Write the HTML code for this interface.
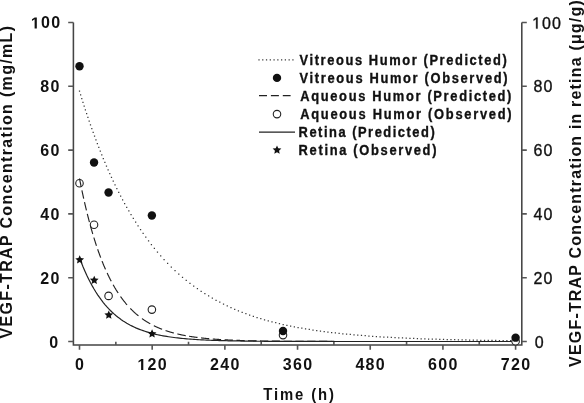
<!DOCTYPE html>
<html><head><meta charset="utf-8"><style>
html,body{margin:0;padding:0;background:#fff;overflow:hidden}
svg{display:block;filter:grayscale(1)}
text{font-family:"Liberation Sans",sans-serif;fill:#111}
.b{font-weight:bold;font-size:16px;letter-spacing:1.3px}
.r{font-size:16px;letter-spacing:1.0px;stroke:#111;stroke-width:0.35px}
.t{font-weight:bold;font-size:16px;letter-spacing:1.33px}
.h1{fill-opacity:0;stroke-opacity:0}
.l{font-weight:bold;font-size:14px;letter-spacing:1.7px;stroke:#111;stroke-width:0.35px}
</style></head><body>
<svg width="584" height="403" viewBox="0 0 584 403">
<path d="M73.4,22.5 V344.9 H521.8 V22.5" fill="none" stroke="#444" stroke-width="1.55"/>
<path d="M68.2,341.50 H73.4 M521.8,341.50 H526.8 M68.2,277.70 H73.4 M521.8,277.70 H526.8 M68.2,213.90 H73.4 M521.8,213.90 H526.8 M68.2,150.10 H73.4 M521.8,150.10 H526.8 M68.2,86.30 H73.4 M521.8,86.30 H526.8 M68.2,22.50 H73.4 M521.8,22.50 H526.8 M79.50,344.9 V349.7 M152.18,344.9 V349.7 M224.87,344.9 V349.7 M297.55,344.9 V349.7 M370.23,344.9 V349.7 M442.92,344.9 V349.7 M515.60,344.9 V349.7 M115.84,344.9 V341.7 M188.52,344.9 V341.7 M261.21,344.9 V341.7 M333.89,344.9 V341.7 M406.57,344.9 V341.7 M479.26,344.9 V341.7" fill="none" stroke="#555" stroke-width="1.6"/>
<circle cx="79.50" cy="183.28" r="3.75" fill="#fff" stroke="#222" stroke-width="1.1"/>
<circle cx="94.04" cy="224.75" r="3.75" fill="#fff" stroke="#222" stroke-width="1.1"/>
<circle cx="108.57" cy="295.88" r="3.75" fill="#fff" stroke="#222" stroke-width="1.1"/>
<circle cx="151.88" cy="309.60" r="3.75" fill="#fff" stroke="#222" stroke-width="1.1"/>
<path d="M78.88,90.46h1.25v1.25h-1.25z M80.01,94.18h1.25v1.25h-1.25z M81.16,97.92h1.25v1.25h-1.25z M82.34,101.67h1.25v1.25h-1.25z M83.54,105.43h1.25v1.25h-1.25z M84.76,109.19h1.25v1.25h-1.25z M86.01,112.97h1.25v1.25h-1.25z M87.27,116.74h1.25v1.25h-1.25z M88.56,120.52h1.25v1.25h-1.25z M89.86,124.29h1.25v1.25h-1.25z M91.19,128.07h1.25v1.25h-1.25z M92.55,131.83h1.25v1.25h-1.25z M93.92,135.59h1.25v1.25h-1.25z M95.32,139.34h1.25v1.25h-1.25z M96.73,143.08h1.25v1.25h-1.25z M98.17,146.80h1.25v1.25h-1.25z M99.66,150.56h1.25v1.25h-1.25z M101.16,154.31h1.25v1.25h-1.25z M102.69,158.03h1.25v1.25h-1.25z M104.26,161.79h1.25v1.25h-1.25z M105.85,165.51h1.25v1.25h-1.25z M107.48,169.26h1.25v1.25h-1.25z M109.16,173.02h1.25v1.25h-1.25z M110.86,176.75h1.25v1.25h-1.25z M112.61,180.49h1.25v1.25h-1.25z M114.40,184.23h1.25v1.25h-1.25z M116.23,187.98h1.25v1.25h-1.25z M118.10,191.72h1.25v1.25h-1.25z M120.02,195.45h1.25v1.25h-1.25z M121.98,199.17h1.25v1.25h-1.25z M124.01,202.92h1.25v1.25h-1.25z M126.08,206.64h1.25v1.25h-1.25z M128.22,210.37h1.25v1.25h-1.25z M130.42,214.12h1.25v1.25h-1.25z M132.69,217.86h1.25v1.25h-1.25z M135.02,221.59h1.25v1.25h-1.25z M137.44,225.34h1.25v1.25h-1.25z M139.93,229.07h1.25v1.25h-1.25z M142.50,232.81h1.25v1.25h-1.25z M145.16,236.54h1.25v1.25h-1.25z M147.93,240.29h1.25v1.25h-1.25z M150.79,244.01h1.25v1.25h-1.25z M153.75,247.73h1.25v1.25h-1.25z M156.85,251.47h1.25v1.25h-1.25z M160.08,255.20h1.25v1.25h-1.25z M163.46,258.94h1.25v1.25h-1.25z M166.99,262.67h1.25v1.25h-1.25z M170.70,266.41h1.25v1.25h-1.25z M174.42,269.99h1.25v1.25h-1.25z M178.15,273.39h1.25v1.25h-1.25z M181.88,276.64h1.25v1.25h-1.25z M185.61,279.72h1.25v1.25h-1.25z M189.34,282.66h1.25v1.25h-1.25z M193.07,285.46h1.25v1.25h-1.25z M196.80,288.12h1.25v1.25h-1.25z M200.53,290.66h1.25v1.25h-1.25z M204.25,293.07h1.25v1.25h-1.25z M207.98,295.37h1.25v1.25h-1.25z M211.71,297.55h1.25v1.25h-1.25z M215.44,299.64h1.25v1.25h-1.25z M219.17,301.62h1.25v1.25h-1.25z M222.90,303.50h1.25v1.25h-1.25z M226.63,305.30h1.25v1.25h-1.25z M230.35,307.01h1.25v1.25h-1.25z M234.08,308.64h1.25v1.25h-1.25z M237.81,310.19h1.25v1.25h-1.25z M241.54,311.66h1.25v1.25h-1.25z M245.27,313.07h1.25v1.25h-1.25z M249.00,314.40h1.25v1.25h-1.25z M252.73,315.67h1.25v1.25h-1.25z M256.45,316.88h1.25v1.25h-1.25z M260.18,318.04h1.25v1.25h-1.25z M263.91,319.14h1.25v1.25h-1.25z M267.64,320.18h1.25v1.25h-1.25z M271.37,321.17h1.25v1.25h-1.25z M275.10,322.12h1.25v1.25h-1.25z M278.83,323.02h1.25v1.25h-1.25z M282.56,323.88h1.25v1.25h-1.25z M286.28,324.70h1.25v1.25h-1.25z M290.01,325.47h1.25v1.25h-1.25z M293.74,326.21h1.25v1.25h-1.25z M297.47,326.92h1.25v1.25h-1.25z M301.20,327.59h1.25v1.25h-1.25z M304.93,328.23h1.25v1.25h-1.25z M308.66,328.84h1.25v1.25h-1.25z M312.38,329.41h1.25v1.25h-1.25z M316.11,329.97h1.25v1.25h-1.25z M319.84,330.49h1.25v1.25h-1.25z M323.57,330.99h1.25v1.25h-1.25z M327.30,331.46h1.25v1.25h-1.25z M331.03,331.92h1.25v1.25h-1.25z M334.76,332.35h1.25v1.25h-1.25z M338.49,332.76h1.25v1.25h-1.25z M342.21,333.15h1.25v1.25h-1.25z M345.94,333.52h1.25v1.25h-1.25z M349.67,333.87h1.25v1.25h-1.25z M353.40,334.21h1.25v1.25h-1.25z M357.13,334.53h1.25v1.25h-1.25z M360.86,334.83h1.25v1.25h-1.25z M364.59,335.12h1.25v1.25h-1.25z M368.31,335.40h1.25v1.25h-1.25z M372.04,335.66h1.25v1.25h-1.25z M375.77,335.91h1.25v1.25h-1.25z M379.50,336.15h1.25v1.25h-1.25z M383.23,336.38h1.25v1.25h-1.25z M386.96,336.59h1.25v1.25h-1.25z M390.69,336.80h1.25v1.25h-1.25z M394.42,337.00h1.25v1.25h-1.25z M398.14,337.18h1.25v1.25h-1.25z M401.87,337.36h1.25v1.25h-1.25z M405.60,337.53h1.25v1.25h-1.25z M409.33,337.69h1.25v1.25h-1.25z M413.06,337.84h1.25v1.25h-1.25z M416.79,337.99h1.25v1.25h-1.25z M420.52,338.13h1.25v1.25h-1.25z M424.24,338.26h1.25v1.25h-1.25z M427.97,338.39h1.25v1.25h-1.25z M431.70,338.50h1.25v1.25h-1.25z M435.43,338.62h1.25v1.25h-1.25z M439.16,338.73h1.25v1.25h-1.25z M442.89,338.83h1.25v1.25h-1.25z M446.62,338.93h1.25v1.25h-1.25z M450.34,339.02h1.25v1.25h-1.25z M454.07,339.11h1.25v1.25h-1.25z M457.80,339.20h1.25v1.25h-1.25z M461.53,339.28h1.25v1.25h-1.25z M465.26,339.35h1.25v1.25h-1.25z M468.99,339.43h1.25v1.25h-1.25z M472.72,339.50h1.25v1.25h-1.25z M476.45,339.56h1.25v1.25h-1.25z M480.17,339.63h1.25v1.25h-1.25z M483.90,339.69h1.25v1.25h-1.25z M487.63,339.74h1.25v1.25h-1.25z M491.36,339.80h1.25v1.25h-1.25z M495.09,339.85h1.25v1.25h-1.25z M498.82,339.90h1.25v1.25h-1.25z M502.55,339.95h1.25v1.25h-1.25z M506.27,339.99h1.25v1.25h-1.25z M510.00,340.03h1.25v1.25h-1.25z M513.73,340.07h1.25v1.25h-1.25z" fill="#3a3a3a"/>
<path d="M79.50,178.49 L79.72,179.60 L79.94,180.71 L80.15,181.80 L80.37,182.89 L80.59,183.97 L80.81,185.05 L81.03,186.11 L81.17,186.80 M81.90,190.31 L82.12,191.34 L82.33,192.36 L82.55,193.38 L82.77,194.39 L82.99,195.39 L83.21,196.39 L83.42,197.37 L83.64,198.36 L83.70,198.60 M84.49,202.12 L84.52,202.22 L84.73,203.17 L84.95,204.11 L85.17,205.05 L85.39,205.98 L85.61,206.90 L85.82,207.82 L86.04,208.73 L86.26,209.64 L86.44,210.40 M87.31,213.90 L87.35,214.07 L87.57,214.94 L87.79,215.80 L88.00,216.66 L88.22,217.51 L88.44,218.35 L88.66,219.19 L88.88,220.03 L89.09,220.86 L89.31,221.68 L89.45,222.21 M90.40,225.71 L90.62,226.50 L90.84,227.28 L91.06,228.06 L91.27,228.83 L91.49,229.60 L91.71,230.36 L91.93,231.12 L92.15,231.87 L92.36,232.62 L92.58,233.36 L92.78,234.03 M93.83,237.50 L93.89,237.71 L94.11,238.42 L94.33,239.12 L94.55,239.82 L94.76,240.51 L94.98,241.20 L95.20,241.88 L95.42,242.56 L95.64,243.24 L95.85,243.91 L96.07,244.57 L96.29,245.23 L96.48,245.79 M97.66,249.29 L97.82,249.73 L98.03,250.36 L98.25,250.98 L98.47,251.60 L98.69,252.21 L98.91,252.82 L99.12,253.42 L99.34,254.02 L99.56,254.62 L99.78,255.21 L100.00,255.80 L100.21,256.38 L100.43,256.97 L100.65,257.54 L100.67,257.60 M102.04,261.11 L102.18,261.47 L102.40,262.01 L102.61,262.55 L102.83,263.09 L103.05,263.63 L103.27,264.16 L103.49,264.68 L103.70,265.21 L103.92,265.73 L104.14,266.24 L104.36,266.76 L104.58,267.27 L104.79,267.77 L105.01,268.28 L105.23,268.77 L105.45,269.27 L105.50,269.39 M107.09,272.91 L107.19,273.12 L107.41,273.58 L107.63,274.05 L107.85,274.51 L108.06,274.96 L108.28,275.42 L108.50,275.87 L108.72,276.31 L108.94,276.76 L109.15,277.20 L109.37,277.64 L109.59,278.07 L109.81,278.51 L110.03,278.94 L110.25,279.36 L110.46,279.79 L110.68,280.21 L110.90,280.62 L111.12,281.04 L111.20,281.20 M113.11,284.71 L113.30,285.04 L113.52,285.42 L113.73,285.80 L113.95,286.18 L114.17,286.56 L114.39,286.93 L114.61,287.31 L114.82,287.68 L115.04,288.04 L115.26,288.41 L115.48,288.77 L115.70,289.13 L115.91,289.49 L116.13,289.84 L116.35,290.19 L116.57,290.54 L116.79,290.89 L117.00,291.23 L117.22,291.58 L117.44,291.92 L117.66,292.26 L117.88,292.59 L118.09,292.92 L118.15,293.01 M120.53,296.49 L120.71,296.75 L120.93,297.06 L121.15,297.36 L121.37,297.66 L121.58,297.96 L121.80,298.26 L122.02,298.55 L122.24,298.84 L122.46,299.13 L122.67,299.42 L122.89,299.71 L123.11,300.00 L123.33,300.28 L123.55,300.56 L123.76,300.84 L123.98,301.12 L124.20,301.39 L124.42,301.66 L124.64,301.94 L124.85,302.21 L125.07,302.47 L125.29,302.74 L125.51,303.00 L125.73,303.27 L125.94,303.53 L126.16,303.79 L126.38,304.04 L126.60,304.30 L126.82,304.55 L127.03,304.80 M130.23,308.30 L130.31,308.38 L130.52,308.61 L130.74,308.83 L130.96,309.05 L131.18,309.28 L131.40,309.50 L131.61,309.71 L131.83,309.93 L132.05,310.15 L132.27,310.36 L132.49,310.57 L132.70,310.78 L132.92,310.99 L133.14,311.20 L133.36,311.41 L133.58,311.61 L133.79,311.81 L134.01,312.02 L134.23,312.22 L134.45,312.42 L134.67,312.62 L134.88,312.81 L135.10,313.01 L135.32,313.20 L135.54,313.40 L135.76,313.59 L135.97,313.78 L136.19,313.97 L136.41,314.15 L136.63,314.34 L136.85,314.53 L137.07,314.71 L137.28,314.89 L137.50,315.07 L137.72,315.25 L137.94,315.43 L138.16,315.61 L138.37,315.79 L138.49,315.88 M141.99,318.55 L142.08,318.61 L142.30,318.77 L142.52,318.92 L142.73,319.07 L142.95,319.23 L143.17,319.38 L143.39,319.53 L143.61,319.68 L143.82,319.83 L144.04,319.98 L144.26,320.12 L144.48,320.27 L144.70,320.41 L144.91,320.56 L145.13,320.70 L145.35,320.84 L145.57,320.98 L145.79,321.12 L146.01,321.26 L146.22,321.40 L146.44,321.54 L146.66,321.67 L146.88,321.81 L147.10,321.94 L147.31,322.07 L147.53,322.21 L147.75,322.34 L147.97,322.47 L148.19,322.60 L148.40,322.73 L148.62,322.86 L148.84,322.98 L149.06,323.11 L149.28,323.23 L149.49,323.36 L149.71,323.48 L149.93,323.61 L150.15,323.73 L150.30,323.81 M153.80,325.65 L153.86,325.68 L154.07,325.79 L154.29,325.89 L154.51,326.00 L154.73,326.11 L154.95,326.21 L155.16,326.31 L155.38,326.42 L155.60,326.52 L155.82,326.62 L156.04,326.72 L156.25,326.83 L156.47,326.93 L156.69,327.02 L156.91,327.12 L157.13,327.22 L157.34,327.32 L157.56,327.42 L157.78,327.51 L158.00,327.61 L158.22,327.70 L158.43,327.80 L158.65,327.89 L158.87,327.98 L159.09,328.07 L159.31,328.17 L159.52,328.26 L159.74,328.35 L159.96,328.44 L160.18,328.53 L160.40,328.61 L160.61,328.70 L160.83,328.79 L161.05,328.88 L161.27,328.96 L161.49,329.05 L161.70,329.13 L161.92,329.22 L162.10,329.28 M165.60,330.55 L165.63,330.56 L165.85,330.64 L166.07,330.71 L166.28,330.79 L166.50,330.86 L166.72,330.93 L166.94,331.00 L167.16,331.08 L167.37,331.15 L167.59,331.22 L167.81,331.29 L168.03,331.36 L168.25,331.43 L168.46,331.49 L168.68,331.56 L168.90,331.63 L169.12,331.70 L169.34,331.77 L169.55,331.83 L169.77,331.90 L169.99,331.96 L170.21,332.03 L170.43,332.09 L170.64,332.16 L170.86,332.22 L171.08,332.28 L171.30,332.35 L171.52,332.41 L171.74,332.47 L171.95,332.53 L172.17,332.59 L172.39,332.65 L172.61,332.71 L172.83,332.77 L173.04,332.83 L173.26,332.89 L173.48,332.95 L173.70,333.01 L173.89,333.06 M177.39,333.94 L177.40,333.94 L177.62,333.99 L177.84,334.04 L178.06,334.10 L178.28,334.15 L178.49,334.20 L178.71,334.25 L178.93,334.30 L179.15,334.34 L179.37,334.39 L179.58,334.44 L179.80,334.49 L180.02,334.54 L180.24,334.58 L180.46,334.63 L180.68,334.68 L180.89,334.73 L181.11,334.77 L181.33,334.82 L181.55,334.86 L181.77,334.91 L181.98,334.95 L182.20,335.00 L182.42,335.04 L182.64,335.09 L182.86,335.13 L183.07,335.17 L183.29,335.22 L183.51,335.26 L183.73,335.30 L183.95,335.34 L184.16,335.39 L184.38,335.43 L184.60,335.47 L184.82,335.51 L185.04,335.55 L185.25,335.59 L185.47,335.63 L185.69,335.67 L185.70,335.67 M189.20,336.28 L189.40,336.31 L189.62,336.35 L189.83,336.38 L190.05,336.42 L190.27,336.45 L190.49,336.49 L190.71,336.52 L190.92,336.55 L191.14,336.59 L191.36,336.62 L191.58,336.65 L191.80,336.69 L192.01,336.72 L192.23,336.75 L192.45,336.79 L192.67,336.82 L192.89,336.85 L193.10,336.88 L193.32,336.91 L193.54,336.94 L193.76,336.97 L193.98,337.01 L194.19,337.04 L194.41,337.07 L194.63,337.10 L194.85,337.13 L195.07,337.16 L195.28,337.19 L195.50,337.22 L195.72,337.25 L195.94,337.27 L196.16,337.30 L196.37,337.33 L196.59,337.36 L196.81,337.39 L197.03,337.42 L197.25,337.44 L197.47,337.47 L197.50,337.48 M201.00,337.89 L201.17,337.91 L201.39,337.94 L201.61,337.96 L201.83,337.99 L202.04,338.01 L202.26,338.03 L202.48,338.06 L202.70,338.08 L202.92,338.10 L203.13,338.13 L203.35,338.15 L203.57,338.17 L203.79,338.20 L204.01,338.22 L204.22,338.24 L204.44,338.26 L204.66,338.29 L204.88,338.31 L205.10,338.33 L205.31,338.35 L205.53,338.37 L205.75,338.39 L205.97,338.41 L206.19,338.44 L206.41,338.46 L206.62,338.48 L206.84,338.50 L207.06,338.52 L207.28,338.54 L207.50,338.56 L207.71,338.58 L207.93,338.60 L208.15,338.62 L208.37,338.64 L208.59,338.66 L208.80,338.68 L209.02,338.70 L209.24,338.72 L209.29,338.72 M212.79,339.01 L212.95,339.02 L213.16,339.04 L213.38,339.05 L213.60,339.07 L213.82,339.09 L214.04,339.10 L214.25,339.12 L214.47,339.14 L214.69,339.15 L214.91,339.17 L215.13,339.19 L215.35,339.20 L215.56,339.22 L215.78,339.23 L216.00,339.25 L216.22,339.26 L216.44,339.28 L216.65,339.29 L216.87,339.31 L217.09,339.32 L217.31,339.34 L217.53,339.35 L217.74,339.37 L217.96,339.38 L218.18,339.40 L218.40,339.41 L218.62,339.43 L218.83,339.44 L219.05,339.45 L219.27,339.47 L219.49,339.48 L219.71,339.49 L219.92,339.51 L220.14,339.52 L220.36,339.54 L220.58,339.55 L220.80,339.56 L221.01,339.58 L221.10,339.58 M224.60,339.78 L224.72,339.79 L224.94,339.80 L225.16,339.81 L225.38,339.82 L225.59,339.83 L225.81,339.84 L226.03,339.86 L226.25,339.87 L226.47,339.88 L226.68,339.89 L226.90,339.90 L227.12,339.91 L227.34,339.92 L227.56,339.93 L227.77,339.94 L227.99,339.95 L228.21,339.96 L228.43,339.97 L228.65,339.99 L228.86,340.00 L229.08,340.01 L229.30,340.02 L229.52,340.03 L229.74,340.04 L229.95,340.05 L230.17,340.06 L230.39,340.07 L230.61,340.08 L230.83,340.09 L231.04,340.10 L231.26,340.10 L231.48,340.11 L231.70,340.12 L231.92,340.13 L232.13,340.14 L232.35,340.15 L232.57,340.16 L232.79,340.17 L232.90,340.17 M236.40,340.31 L236.50,340.32 L236.71,340.32 L236.93,340.33 L237.15,340.34 L237.37,340.35 L237.59,340.36 L237.80,340.36 L238.02,340.37 L238.24,340.38 L238.46,340.39 L238.68,340.39 L238.89,340.40 L239.11,340.41 L239.33,340.42 L239.55,340.42 L239.77,340.43 L239.98,340.44 L240.20,340.45 L240.42,340.45 L240.64,340.46 L240.86,340.47 L241.08,340.47 L241.29,340.48 L241.51,340.49 L241.73,340.50 L241.95,340.50 L242.17,340.51 L242.38,340.52 L242.60,340.52 L242.82,340.53 L243.04,340.54 L243.26,340.54 L243.47,340.55 L243.69,340.56 L243.91,340.56 L244.13,340.57 L244.35,340.57 L244.56,340.58 L244.69,340.58 M248.19,340.68 L248.27,340.68 L248.49,340.69 L248.71,340.69 L248.92,340.70 L249.14,340.70 L249.36,340.71 L249.58,340.71 L249.80,340.72 L250.02,340.73 L250.23,340.73 L250.45,340.74 L250.67,340.74 L250.89,340.75 L251.11,340.75 L251.32,340.76 L251.54,340.76 L251.76,340.77 L251.98,340.77 L252.20,340.78 L252.41,340.78 L252.63,340.79 L252.85,340.79 L253.07,340.80 L253.29,340.80 L253.50,340.81 L253.72,340.81 L253.94,340.81 L254.16,340.82 L254.38,340.82 L254.59,340.83 L254.81,340.83 L255.03,340.84 L255.25,340.84 L255.47,340.85 L255.68,340.85 L255.90,340.86 L256.12,340.86 L256.34,340.86 L256.50,340.87 M260.00,340.93 L260.05,340.93 L260.26,340.94 L260.48,340.94 L260.70,340.95 L260.92,340.95 L261.14,340.95 L261.35,340.96 L261.57,340.96 L261.79,340.96 L262.01,340.97 L262.23,340.97 L262.44,340.98 L262.66,340.98 L262.88,340.98 L263.10,340.99 L263.32,340.99 L263.53,340.99 L263.75,341.00 L263.97,341.00 L264.19,341.00 L264.41,341.01 L264.62,341.01 L264.84,341.01 L265.06,341.02 L265.28,341.02 L265.50,341.02 L265.71,341.03 L265.93,341.03 L266.15,341.03 L266.37,341.04 L266.59,341.04 L266.80,341.04 L267.02,341.05 L267.24,341.05 L267.46,341.05 L267.68,341.05 L267.90,341.06 L268.11,341.06 L268.30,341.06 M271.80,341.11 L271.82,341.11 L272.04,341.11 L272.26,341.11 L272.47,341.12 L272.69,341.12 L272.91,341.12 L273.13,341.12 L273.35,341.13 L273.56,341.13 L273.78,341.13 L274.00,341.13 L274.22,341.14 L274.44,341.14 L274.65,341.14 L274.87,341.14 L275.09,341.15 L275.31,341.15 L275.53,341.15 L275.75,341.15 L275.96,341.16 L276.18,341.16 L276.40,341.16 L276.62,341.16 L276.84,341.17 L277.05,341.17 L277.27,341.17 L277.49,341.17 L277.71,341.17 L277.93,341.18 L278.14,341.18 L278.36,341.18 L278.58,341.18 L278.80,341.19 L279.02,341.19 L279.23,341.19 L279.45,341.19 L279.67,341.19 L279.89,341.20 L280.10,341.20 M283.59,341.23 L283.81,341.23 L284.03,341.23 L284.25,341.24 L284.47,341.24 L284.69,341.24 L284.90,341.24 L285.12,341.24 L285.34,341.24 L285.56,341.25 L285.78,341.25 L285.99,341.25 L286.21,341.25 L286.43,341.25 L286.65,341.25 L286.87,341.26 L287.08,341.26 L287.30,341.26 L287.52,341.26 L287.74,341.26 L287.96,341.26 L288.17,341.27 L288.39,341.27 L288.61,341.27 L288.83,341.27 L289.05,341.27 L289.26,341.27 L289.48,341.28 L289.70,341.28 L289.92,341.28 L290.14,341.28 L290.35,341.28 L290.57,341.28 L290.79,341.28 L291.01,341.29 L291.23,341.29 L291.44,341.29 L291.66,341.29 L291.88,341.29 L291.89,341.29 M295.40,341.31 L295.59,341.31 L295.81,341.32 L296.02,341.32 L296.24,341.32 L296.46,341.32 L296.68,341.32 L296.90,341.32 L297.11,341.32 L297.33,341.32 L297.55,341.33 L297.77,341.33 L297.99,341.33 L298.20,341.33 L298.42,341.33 L298.64,341.33 L298.86,341.33 L299.08,341.33 L299.29,341.33 L299.51,341.34 L299.73,341.34 L299.95,341.34 L300.17,341.34 L300.38,341.34 L300.60,341.34 L300.82,341.34 L301.04,341.34 L301.26,341.34 L301.47,341.35 L301.69,341.35 L301.91,341.35 L302.13,341.35 L302.35,341.35 L302.57,341.35 L302.78,341.35 L303.00,341.35 L303.22,341.35 L303.44,341.35 L303.66,341.36 L303.70,341.36 M307.20,341.37 L307.36,341.37 L307.58,341.37 L307.80,341.37 L308.02,341.37 L308.23,341.38 L308.45,341.38 L308.67,341.38 L308.89,341.38 L309.11,341.38 L309.32,341.38 L309.54,341.38 L309.76,341.38 L309.98,341.38 L310.20,341.38 L310.41,341.38 L310.63,341.38 L310.85,341.39 L311.07,341.39 L311.29,341.39 L311.51,341.39 L311.72,341.39 L311.94,341.39 L312.16,341.39 L312.38,341.39 L312.60,341.39 L312.81,341.39 L313.03,341.39 L313.25,341.39 L313.47,341.39 L313.69,341.39 L313.90,341.40 L314.12,341.40 L314.34,341.40 L314.56,341.40 L314.78,341.40 L314.99,341.40 L315.21,341.40 L315.43,341.40 L315.50,341.40 M319.00,341.41 L319.14,341.41 L319.36,341.41 L319.57,341.41 L319.79,341.41 L320.01,341.41 L320.23,341.41 L320.45,341.41 L320.66,341.42 L320.88,341.42 L321.10,341.42 L321.32,341.42 L321.54,341.42 L321.75,341.42 L321.97,341.42 L322.19,341.42 L322.41,341.42 L322.63,341.42 L322.84,341.42 L323.06,341.42 L323.28,341.42 L323.50,341.42 L323.72,341.42 L323.93,341.42 L324.15,341.42 L324.37,341.42 L324.59,341.43 L324.81,341.43 L325.02,341.43 L325.24,341.43 L325.46,341.43 L325.68,341.43 L325.90,341.43 L326.11,341.43 L326.33,341.43 L326.55,341.43 L326.77,341.43 L326.99,341.43 L327.20,341.43 L327.29,341.43 M330.79,341.44 L330.91,341.44 L331.13,341.44 L331.35,341.44 L331.57,341.44 L331.78,341.44 L332.00,341.44 L332.22,341.44 L332.44,341.44 L332.66,341.44 L332.87,341.44 L333.09,341.44 L333.31,341.44 L333.53,341.44 L333.75,341.44 L333.96,341.44 L334.18,341.44 L334.40,341.45 L334.62,341.45 L334.84,341.45 L335.05,341.45 L335.27,341.45 L335.49,341.45 L335.71,341.45 L335.93,341.45 L336.14,341.45 L336.36,341.45 L336.58,341.45 L336.80,341.45 L337.02,341.45 L337.24,341.45 L337.45,341.45 L337.67,341.45 L337.89,341.45 L338.11,341.45 L338.33,341.45 L338.54,341.45 L338.76,341.45 L338.98,341.45 L339.10,341.45 M342.60,341.46 L342.69,341.46 L342.90,341.46 L343.12,341.46 L343.34,341.46 L343.56,341.46 L343.78,341.46 L343.99,341.46 L344.21,341.46 L344.43,341.46 L344.65,341.46 L344.87,341.46 L345.08,341.46 L345.30,341.46 L345.52,341.46 L345.74,341.46 L345.96,341.46 L346.18,341.46 L346.39,341.46 L346.61,341.46 L346.83,341.46 L347.05,341.46 L347.27,341.46 L347.48,341.46 L347.70,341.46 L347.92,341.46 L348.14,341.46 L348.36,341.46 L348.57,341.46 L348.79,341.47 L349.01,341.47 L349.23,341.47 L349.45,341.47 L349.66,341.47 L349.88,341.47 L350.10,341.47 L350.32,341.47 L350.54,341.47 L350.75,341.47 L350.90,341.47 M354.40,341.47 L354.46,341.47 L354.68,341.47 L354.90,341.47 L355.12,341.47 L355.33,341.47 L355.55,341.47 L355.77,341.47 L355.99,341.47 L356.21,341.47 L356.42,341.47 L356.64,341.47 L356.86,341.47 L357.08,341.47 L357.30,341.47 L357.51,341.47 L357.73,341.47 L357.95,341.47 L358.17,341.47 L358.39,341.47 L358.60,341.47 L358.82,341.47 L359.04,341.47 L359.26,341.47 L359.48,341.47 L359.69,341.48 L359.91,341.48 L360.13,341.48 L360.35,341.48 L360.57,341.48 L360.78,341.48 L361.00,341.48 L361.22,341.48 L361.44,341.48 L361.66,341.48 L361.87,341.48 L362.09,341.48 L362.31,341.48 L362.53,341.48 L362.69,341.48 M366.19,341.48 L366.24,341.48 L366.45,341.48 L366.67,341.48 L366.89,341.48 L367.11,341.48 L367.33,341.48 L367.54,341.48 L367.76,341.48 L367.98,341.48 L368.20,341.48 L368.42,341.48 L368.63,341.48 L368.85,341.48 L369.07,341.48 L369.29,341.48 L369.51,341.48 L369.72,341.48 L369.94,341.48 L370.16,341.48 L370.38,341.48 L370.60,341.48 L370.81,341.48 L371.03,341.48 L371.25,341.48 L371.47,341.48 L371.69,341.48 L371.91,341.48 L372.12,341.48 L372.34,341.48 L372.56,341.48 L372.78,341.48 L373.00,341.48 L373.21,341.48 L373.43,341.48 L373.65,341.48 L373.87,341.48 L374.09,341.48 L374.30,341.48 L374.50,341.48 M378.00,341.49 L378.01,341.49 L378.23,341.49 L378.45,341.49 L378.66,341.49 L378.88,341.49 L379.10,341.49 L379.32,341.49 L379.54,341.49 L379.75,341.49 L379.97,341.49 L380.19,341.49 L380.41,341.49 L380.63,341.49 L380.85,341.49 L381.06,341.49 L381.28,341.49 L381.50,341.49 L381.72,341.49 L381.94,341.49 L382.15,341.49 L382.37,341.49 L382.59,341.49 L382.81,341.49 L383.03,341.49 L383.24,341.49 L383.46,341.49 L383.68,341.49 L383.90,341.49 L384.12,341.49 L384.33,341.49 L384.55,341.49 L384.77,341.49 L384.99,341.49 L385.21,341.49 L385.42,341.49 L385.64,341.49 L385.86,341.49 L386.08,341.49 L386.30,341.49 M389.80,341.49 L390.00,341.49 L390.22,341.49 L390.44,341.49 L390.66,341.49 L390.88,341.49 L391.09,341.49 L391.31,341.49 L391.53,341.49 L391.75,341.49 L391.97,341.49 L392.18,341.49 L392.40,341.49 L392.62,341.49 L392.84,341.49 L393.06,341.49 L393.27,341.49 L393.49,341.49 L393.71,341.49 L393.93,341.49 L394.15,341.49 L394.36,341.49 L394.58,341.49 L394.80,341.49 L395.02,341.49 L395.24,341.49 L395.45,341.49 L395.67,341.49 L395.89,341.49 L396.11,341.49 L396.33,341.49 L396.54,341.49 L396.76,341.49 L396.98,341.49 L397.20,341.49 L397.42,341.49 L397.63,341.49 L397.85,341.49 L398.07,341.49 L398.09,341.49 M401.59,341.49 L401.78,341.49 L402.00,341.49 L402.21,341.49 L402.43,341.49 L402.65,341.49 L402.87,341.49 L403.09,341.49 L403.30,341.49 L403.52,341.49 L403.74,341.49 L403.96,341.49 L404.18,341.49 L404.39,341.49 L404.61,341.49 L404.83,341.49 L405.05,341.49 L405.27,341.49 L405.48,341.49 L405.70,341.49 L405.92,341.49 L406.14,341.49 L406.36,341.49 L406.57,341.49 L406.79,341.49 L407.01,341.49 L407.23,341.49 L407.45,341.49 L407.67,341.49 L407.88,341.49 L408.10,341.49 L408.32,341.49 L408.54,341.49 L408.76,341.49 L408.97,341.49 L409.19,341.49 L409.41,341.49 L409.63,341.49 L409.85,341.49 L409.90,341.49 M413.40,341.50 L413.55,341.50 L413.77,341.50 L413.99,341.50 L414.21,341.50 L414.42,341.50 L414.64,341.50 L414.86,341.50 L415.08,341.50 L415.30,341.50 L415.52,341.50 L415.73,341.50 L415.95,341.50 L416.17,341.50 L416.39,341.50 L416.61,341.50 L416.82,341.50 L417.04,341.50 L417.26,341.50 L417.48,341.50 L417.70,341.50 L417.91,341.50 L418.13,341.50 L418.35,341.50 L418.57,341.50 L418.79,341.50 L419.00,341.50 L419.22,341.50 L419.44,341.50 L419.66,341.50 L419.88,341.50 L420.09,341.50 L420.31,341.50 L420.53,341.50 L420.75,341.50 L420.97,341.50 L421.18,341.50 L421.40,341.50 L421.62,341.50 L421.70,341.50 M425.20,341.50 L425.33,341.50 L425.55,341.50 L425.76,341.50 L425.98,341.50 L426.20,341.50 L426.42,341.50 L426.64,341.50 L426.85,341.50 L427.07,341.50 L427.29,341.50 L427.51,341.50 L427.73,341.50 L427.94,341.50 L428.16,341.50 L428.38,341.50 L428.60,341.50 L428.82,341.50 L429.03,341.50 L429.25,341.50 L429.47,341.50 L429.69,341.50 L429.91,341.50 L430.12,341.50 L430.34,341.50 L430.56,341.50 L430.78,341.50 L431.00,341.50 L431.21,341.50 L431.43,341.50 L431.65,341.50 L431.87,341.50 L432.09,341.50 L432.30,341.50 L432.52,341.50 L432.74,341.50 L432.96,341.50 L433.18,341.50 L433.40,341.50 L433.49,341.50 M436.99,341.50 L437.10,341.50 L437.32,341.50 L437.54,341.50 L437.76,341.50 L437.97,341.50 L438.19,341.50 L438.41,341.50 L438.63,341.50 L438.85,341.50 L439.06,341.50 L439.28,341.50 L439.50,341.50 L439.72,341.50 L439.94,341.50 L440.15,341.50 L440.37,341.50 L440.59,341.50 L440.81,341.50 L441.03,341.50 L441.24,341.50 L441.46,341.50 L441.68,341.50 L441.90,341.50 L442.12,341.50 L442.34,341.50 L442.55,341.50 L442.77,341.50 L442.99,341.50 L443.21,341.50 L443.43,341.50 L443.64,341.50 L443.86,341.50 L444.08,341.50 L444.30,341.50 L444.52,341.50 L444.73,341.50 L444.95,341.50 L445.17,341.50 L445.30,341.50 M448.80,341.50 L448.88,341.50 L449.09,341.50 L449.31,341.50 L449.53,341.50 L449.75,341.50 L449.97,341.50 L450.19,341.50 L450.40,341.50 L450.62,341.50 L450.84,341.50 L451.06,341.50 L451.28,341.50 L451.49,341.50 L451.71,341.50 L451.93,341.50 L452.15,341.50 L452.37,341.50 L452.58,341.50 L452.80,341.50 L453.02,341.50 L453.24,341.50 L453.46,341.50 L453.67,341.50 L453.89,341.50 L454.11,341.50 L454.33,341.50 L454.55,341.50 L454.76,341.50 L454.98,341.50 L455.20,341.50 L455.42,341.50 L455.64,341.50 L455.85,341.50 L456.07,341.50 L456.29,341.50 L456.51,341.50 L456.73,341.50 L456.94,341.50 L457.10,341.50 M460.60,341.50 L460.65,341.50 L460.87,341.50 L461.09,341.50 L461.31,341.50 L461.52,341.50 L461.74,341.50 L461.96,341.50 L462.18,341.50 L462.40,341.50 L462.61,341.50 L462.83,341.50 L463.05,341.50 L463.27,341.50 L463.49,341.50 L463.70,341.50 L463.92,341.50 L464.14,341.50 L464.36,341.50 L464.58,341.50 L464.79,341.50 L465.01,341.50 L465.23,341.50 L465.45,341.50 L465.67,341.50 L465.88,341.50 L466.10,341.50 L466.32,341.50 L466.54,341.50 L466.76,341.50 L466.97,341.50 L467.19,341.50 L467.41,341.50 L467.63,341.50 L467.85,341.50 L468.07,341.50 L468.28,341.50 L468.50,341.50 L468.72,341.50 L468.89,341.50 M472.39,341.50 L472.43,341.50 L472.64,341.50 L472.86,341.50 L473.08,341.50 L473.30,341.50 L473.52,341.50 L473.73,341.50 L473.95,341.50 L474.17,341.50 L474.39,341.50 L474.61,341.50 L474.82,341.50 L475.04,341.50 L475.26,341.50 L475.48,341.50 L475.70,341.50 L475.91,341.50 L476.13,341.50 L476.35,341.50 L476.57,341.50 L476.79,341.50 L477.01,341.50 L477.22,341.50 L477.44,341.50 L477.66,341.50 L477.88,341.50 L478.10,341.50 L478.31,341.50 L478.53,341.50 L478.75,341.50 L478.97,341.50 L479.19,341.50 L479.40,341.50 L479.62,341.50 L479.84,341.50 L480.06,341.50 L480.28,341.50 L480.49,341.50 L480.70,341.50 M484.20,341.50 L484.42,341.50 L484.64,341.50 L484.85,341.50 L485.07,341.50 L485.29,341.50 L485.51,341.50 L485.73,341.50 L485.95,341.50 L486.16,341.50 L486.38,341.50 L486.60,341.50 L486.82,341.50 L487.04,341.50 L487.25,341.50 L487.47,341.50 L487.69,341.50 L487.91,341.50 L488.13,341.50 L488.34,341.50 L488.56,341.50 L488.78,341.50 L489.00,341.50 L489.22,341.50 L489.43,341.50 L489.65,341.50 L489.87,341.50 L490.09,341.50 L490.31,341.50 L490.52,341.50 L490.74,341.50 L490.96,341.50 L491.18,341.50 L491.40,341.50 L491.61,341.50 L491.83,341.50 L492.05,341.50 L492.27,341.50 L492.49,341.50 L492.50,341.50 M496.00,341.50 L496.19,341.50 L496.41,341.50 L496.63,341.50 L496.85,341.50 L497.07,341.50 L497.28,341.50 L497.50,341.50 L497.72,341.50 L497.94,341.50 L498.16,341.50 L498.37,341.50 L498.59,341.50 L498.81,341.50 L499.03,341.50 L499.25,341.50 L499.46,341.50 L499.68,341.50 L499.90,341.50 L500.12,341.50 L500.34,341.50 L500.55,341.50 L500.77,341.50 L500.99,341.50 L501.21,341.50 L501.43,341.50 L501.64,341.50 L501.86,341.50 L502.08,341.50 L502.30,341.50 L502.52,341.50 L502.74,341.50 L502.95,341.50 L503.17,341.50 L503.39,341.50 L503.61,341.50 L503.83,341.50 L504.04,341.50 L504.26,341.50 L504.29,341.50 M507.79,341.50 L507.97,341.50 L508.19,341.50 L508.40,341.50 L508.62,341.50 L508.84,341.50 L509.06,341.50 L509.28,341.50 L509.49,341.50 L509.71,341.50 L509.93,341.50 L510.15,341.50 L510.37,341.50 L510.58,341.50 L510.80,341.50 L511.02,341.50 L511.24,341.50 L511.46,341.50 L511.68,341.50 L511.89,341.50 L512.11,341.50 L512.33,341.50 L512.55,341.50 L512.77,341.50 L512.98,341.50 L513.20,341.50 L513.42,341.50 L513.64,341.50 L513.86,341.50 L514.07,341.50 L514.29,341.50 L514.51,341.50 L514.73,341.50 L514.95,341.50 L515.16,341.50 L515.38,341.50 L515.60,341.50" fill="none" stroke="#222" stroke-width="1.15"/>
<path d="M79.50,257.67 L81.32,262.43 L83.13,266.92 L84.95,271.16 L86.77,275.16 L88.59,278.93 L90.40,282.48 L92.22,285.84 L94.04,289.00 L95.85,291.98 L97.67,294.80 L99.49,297.45 L101.31,299.95 L103.12,302.31 L104.94,304.54 L106.76,306.64 L108.57,308.62 L110.39,310.49 L112.21,312.25 L114.02,313.91 L115.84,315.48 L117.66,316.96 L119.48,318.35 L121.29,319.67 L123.11,320.91 L124.93,322.08 L126.74,323.18 L128.56,324.22 L130.38,325.21 L132.20,326.13 L134.01,327.00 L135.83,327.83 L137.65,328.61 L139.46,329.34 L141.28,330.03 L143.10,330.68 L144.91,331.30 L146.73,331.88 L148.55,332.42 L150.37,332.94 L152.18,333.42 L154.00,333.88 L155.82,334.32 L157.63,334.72 L159.45,335.11 L161.27,335.47 L163.09,335.82 L164.90,336.14 L166.72,336.44 L168.54,336.73 L170.35,337.00 L172.17,337.26 L173.99,337.50 L175.81,337.73 L177.62,337.94 L179.44,338.14 L181.26,338.33 L183.07,338.51 L184.89,338.68 L186.71,338.84 L188.52,338.99 L190.34,339.14 L192.16,339.27 L193.98,339.40 L195.79,339.52 L197.61,339.63 L199.43,339.74 L201.24,339.84 L203.06,339.93 L204.88,340.02 L206.70,340.10 L208.51,340.18 L210.33,340.26 L212.15,340.33 L213.96,340.40 L215.78,340.46 L217.60,340.52 L219.42,340.57 L221.23,340.63 L223.05,340.68 L224.87,340.72 L226.68,340.77 L228.50,340.81 L230.32,340.85 L232.13,340.88 L233.95,340.92 L235.77,340.95 L237.59,340.98 L239.40,341.01 L241.22,341.04 L243.04,341.07 L244.85,341.09 L246.67,341.11 L248.49,341.14 L250.31,341.16 L252.12,341.18 L253.94,341.19 L255.76,341.21 L257.57,341.23 L259.39,341.24 L261.21,341.26 L263.03,341.27 L264.84,341.29 L266.66,341.30 L268.48,341.31 L270.29,341.32 L272.11,341.33 L273.93,341.34 L275.75,341.35 L277.56,341.36 L279.38,341.37 L281.20,341.37 L283.01,341.38 L284.83,341.39 L286.65,341.39 L288.46,341.40 L290.28,341.41 L292.10,341.41 L293.92,341.42 L295.73,341.42 L297.55,341.43 L299.37,341.43 L301.18,341.43 L303.00,341.44 L304.82,341.44 L306.64,341.44 L308.45,341.45 L310.27,341.45 L312.09,341.45 L313.90,341.46 L315.72,341.46 L317.54,341.46 L319.36,341.46 L321.17,341.46 L322.99,341.47 L324.81,341.47 L326.62,341.47 L328.44,341.47 L330.26,341.47 L332.07,341.48 L333.89,341.48 L335.71,341.48 L337.53,341.48 L339.34,341.48 L341.16,341.48 L342.98,341.48 L344.79,341.48 L346.61,341.48 L348.43,341.49 L350.25,341.49 L352.06,341.49 L353.88,341.49 L355.70,341.49 L357.51,341.49 L359.33,341.49 L361.15,341.49 L362.96,341.49 L364.78,341.49 L366.60,341.49 L368.42,341.49 L370.23,341.49 L372.05,341.49 L373.87,341.49 L375.68,341.49 L377.50,341.49 L379.32,341.49 L381.14,341.49 L382.95,341.50 L384.77,341.50 L386.59,341.50 L388.40,341.50 L390.22,341.50 L392.04,341.50 L393.86,341.50 L395.67,341.50 L397.49,341.50 L399.31,341.50 L401.12,341.50 L402.94,341.50 L404.76,341.50 L406.57,341.50 L408.39,341.50 L410.21,341.50 L412.03,341.50 L413.84,341.50 L415.66,341.50 L417.48,341.50 L419.29,341.50 L421.11,341.50 L422.93,341.50 L424.75,341.50 L426.56,341.50 L428.38,341.50 L430.20,341.50 L432.01,341.50 L433.83,341.50 L435.65,341.50 L437.47,341.50 L439.28,341.50 L441.10,341.50 L442.92,341.50 L444.73,341.50 L446.55,341.50 L448.37,341.50 L450.19,341.50 L452.00,341.50 L453.82,341.50 L455.64,341.50 L457.45,341.50 L459.27,341.50 L461.09,341.50 L462.90,341.50 L464.72,341.50 L466.54,341.50 L468.36,341.50 L470.17,341.50 L471.99,341.50 L473.81,341.50 L475.62,341.50 L477.44,341.50 L479.26,341.50 L481.08,341.50 L482.89,341.50 L484.71,341.50 L486.53,341.50 L488.34,341.50 L490.16,341.50 L491.98,341.50 L493.79,341.50 L495.61,341.50 L497.43,341.50 L499.25,341.50 L501.06,341.50 L502.88,341.50 L504.70,341.50 L506.51,341.50 L508.33,341.50 L510.15,341.50 L511.97,341.50 L513.78,341.50 L515.60,341.50" fill="none" stroke="#222" stroke-width="1.2"/>
<circle cx="283.01" cy="335.12" r="3.75" fill="#fff" stroke="#222" stroke-width="1.1"/>
<circle cx="515.60" cy="341.18" r="3.75" fill="#fff" stroke="#222" stroke-width="1.1"/>
<circle cx="79.50" cy="66.20" r="4.2" fill="#111"/>
<circle cx="94.04" cy="162.54" r="4.2" fill="#111"/>
<circle cx="108.57" cy="192.53" r="4.2" fill="#111"/>
<circle cx="151.88" cy="215.50" r="4.2" fill="#111"/>
<circle cx="283.01" cy="330.97" r="4.2" fill="#111"/>
<circle cx="515.60" cy="337.67" r="4.2" fill="#111"/>
<polygon points="79.70,255.24 80.96,258.10 84.07,258.41 81.74,260.50 82.40,263.56 79.70,261.99 77.00,263.56 77.66,260.50 75.33,258.41 78.44,258.10" fill="#111"/>
<polygon points="94.24,275.65 95.50,278.51 98.61,278.83 96.28,280.92 96.94,283.97 94.24,282.40 91.53,283.97 92.19,280.92 89.86,278.83 92.97,278.51" fill="#111"/>
<polygon points="108.77,310.42 110.04,313.28 113.15,313.60 110.82,315.69 111.48,318.74 108.77,317.17 106.07,318.74 106.73,315.69 104.40,313.60 107.51,313.28" fill="#111"/>
<polygon points="152.08,329.24 153.34,332.10 156.46,332.42 154.13,334.51 154.78,337.57 152.08,335.99 149.38,337.57 150.04,334.51 147.71,332.42 150.82,332.10" fill="#111"/>
<text x="59.4" y="348.10" text-anchor="end" class="b">0</text>
<text x="534.7" y="347.60" class="r">0</text>
<text x="60.6" y="283.60" text-anchor="end" class="b">20</text>
<text x="533.5" y="283.80" class="r">20</text>
<text x="60.6" y="219.80" text-anchor="end" class="b">40</text>
<text x="533.5" y="220.00" class="r">40</text>
<text x="60.6" y="156.00" text-anchor="end" class="b">60</text>
<text x="533.5" y="156.20" class="r">60</text>
<text x="60.6" y="92.20" text-anchor="end" class="b">80</text>
<text x="533.5" y="92.40" class="r">80</text>
<text x="61.5" y="28.40" text-anchor="end" class="b one"><tspan class="h1">1</tspan>00</text>
<text x="532.1" y="28.60" class="r one"><tspan class="h1">1</tspan>00</text>
<text x="80.00" y="370.1" text-anchor="middle" class="b">0</text>
<text x="152.68" y="370.1" text-anchor="middle" class="b one"><tspan class="h1">1</tspan>20</text>
<text x="225.37" y="370.1" text-anchor="middle" class="b">240</text>
<text x="298.05" y="370.1" text-anchor="middle" class="b">360</text>
<text x="370.73" y="370.1" text-anchor="middle" class="b">480</text>
<text x="443.42" y="370.1" text-anchor="middle" class="b">600</text>
<text x="516.10" y="370.1" text-anchor="middle" class="b">720</text>
<path d="M34.62,28.40 L34.62,19.26 L31.98,20.91 L31.98,19.18 L34.74,17.39 L36.82,17.39 L36.82,28.40Z" fill="#111"/>
<path d="M536.12,28.60 L536.12,18.94 L533.64,20.71 L533.64,19.38 L536.24,17.59 L537.54,17.59 L537.54,28.60Z" fill="#111" stroke="#111" stroke-width="0.35"/>
<path d="M141.11,370.10 L141.11,360.96 L138.47,362.61 L138.47,360.88 L141.23,359.09 L143.30,359.09 L143.30,370.10Z" fill="#111"/>
<text x="0" y="399.6" text-anchor="middle" class="t" style="letter-spacing:2.0px" transform="translate(299.5,0) scale(0.93,1)">Time (h)</text>
<text transform="translate(12.3,338.5) rotate(-90)" class="t">VEGF-TRAP Concentration (mg/mL)</text>
<text transform="translate(580.6,366.9) rotate(-90)" class="t" style="letter-spacing:1.18px">VEGF-TRAP Concentration in retina (μg/g)</text>
<text x="0" y="65.0" class="l" style="letter-spacing:1.743px" transform="translate(299.60,0) scale(0.92,1)">Vitreous Humor (Predicted)</text>
<text x="0" y="83.0" class="l" style="letter-spacing:1.818px" transform="translate(299.60,0) scale(0.92,1)">Vitreous Humor (Observed)</text>
<text x="0" y="101.0" class="l" style="letter-spacing:1.827px" transform="translate(300.20,0) scale(0.92,1)">Aqueous Humor (Predicted)</text>
<text x="0" y="119.3" class="l" style="letter-spacing:1.880px" transform="translate(300.20,0) scale(0.92,1)">Aqueous Humor (Observed)</text>
<text x="0" y="137.2" class="l" style="letter-spacing:1.662px" transform="translate(298.60,0) scale(0.92,1)">Retina (Predicted)</text>
<text x="0" y="155.2" class="l" style="letter-spacing:1.836px" transform="translate(298.60,0) scale(0.92,1)">Retina (Observed)</text>
<path d="M258.38,59.27h1.25v1.25h-1.25z M262.14,59.27h1.25v1.25h-1.25z M265.92,59.27h1.25v1.25h-1.25z M269.69,59.27h1.25v1.25h-1.25z M273.45,59.27h1.25v1.25h-1.25z M277.23,59.27h1.25v1.25h-1.25z M281.00,59.27h1.25v1.25h-1.25z M284.76,59.27h1.25v1.25h-1.25z M288.54,59.27h1.25v1.25h-1.25z M292.31,59.27h1.25v1.25h-1.25z" fill="#3a3a3a"/>
<circle cx="277.00" cy="77.90" r="4.2" fill="#111"/>
<path d="M259,95.6 H290.6" stroke="#222" stroke-width="1.3" stroke-dasharray="8 3.9" fill="none"/>
<circle cx="277.00" cy="114.10" r="3.75" fill="#fff" stroke="#222" stroke-width="1.1"/>
<path d="M259,132.1 H295" stroke="#222" stroke-width="1.2" fill="none"/>
<polygon points="277.00,145.40 278.26,148.26 281.37,148.58 279.04,150.66 279.70,153.72 277.00,152.15 274.30,153.72 274.96,150.66 272.63,148.58 275.74,148.26" fill="#111"/>
</svg>
</body></html>
